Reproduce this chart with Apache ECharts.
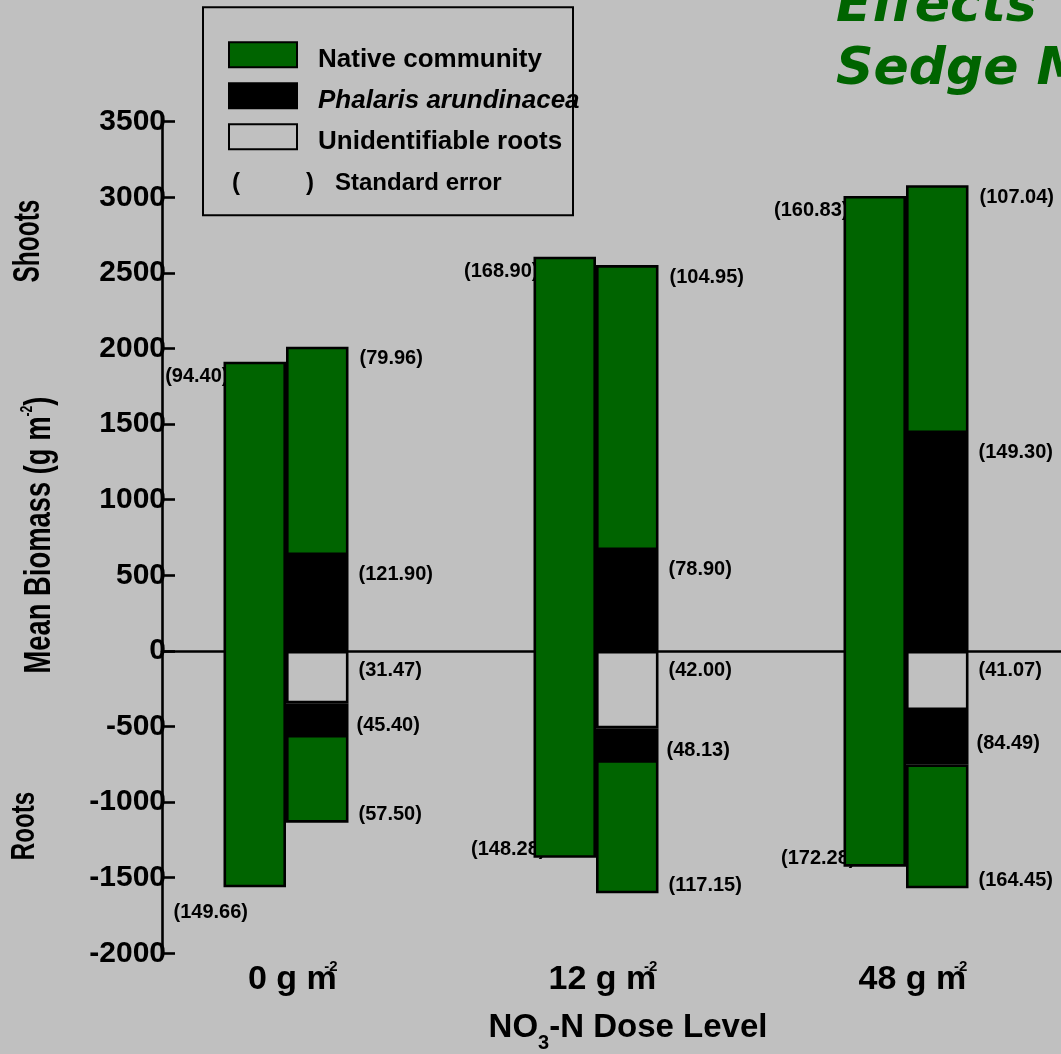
<!DOCTYPE html>
<html><head><meta charset="utf-8">
<script src="https://cdn.jsdelivr.net/npm/echarts@6/dist/echarts.min.js"></script>
<style>html,body{margin:0;padding:0;background:#c0c0c0;overflow:hidden}#c{width:1061px;height:1054px}</style>
</head><body><div id="c"></div><script>
// ---- data ----
const doses = ['0', '12', '48'];                 // NO3-N dose, g m-2
// Native community grown alone (left bar of each pair)
const aloneShoots = [1913, 2607, 3009];
const aloneRoots  = [1563, 1368, 1427];
// Native community + Phalaris (right bar of each pair)
const mixNativeShoots   = [1378, 1885, 1639];
const mixPhalarisShoots = [634, 667, 1441];
const mixUnidentRoots   = [347, 512, 391];
const mixPhalarisRoots  = [209, 210, 359];
const mixNativeRoots    = [580, 881, 820];
// standard errors
const seAloneShoots      = ['94.40', '168.90', '160.83'];
const seAloneRoots       = ['149.66', '148.28', '172.28'];
const seMixShoots        = ['79.96', '104.95', '107.04'];
const seMixPhalarisShoot = ['121.90', '78.90', '149.30'];
const seMixUnident       = ['31.47', '42.00', '41.07'];
const seMixPhalarisRoot  = ['45.40', '48.13', '84.49'];
const seMixNativeRoot    = ['57.50', '117.15', '164.45'];

const FONT = 'Liberation Sans';
const GREEN = '#006400';
const BG = '#c0c0c0';
const BW = 62.5;

function lbl(text, pos, align, vAlign, off) {
  return { show: true, formatter: '(' + text + ')', position: pos, align: align, verticalAlign: vAlign,
           offset: off, fontSize: 20, fontWeight: 'bold', color: '#000', fontFamily: FONT };
}
const border = { borderColor: '#000', borderWidth: 2.6 };
const xOf = i => i + 1;
// value first, group position second (so that stacking runs on the value dimension)
const pt = (v, i) => [v, xOf(i)];
const common = { type: 'bar', barWidth: BW, barGap: '0%', encode: { x: 1, y: 0 }, xAxisIndex: 0, yAxisIndex: 0 };

const series = [
  Object.assign({ name: 'leftBase', stack: 'left', stackStrategy: 'all', z: 1,
    itemStyle: { color: 'rgba(0,0,0,0)', borderWidth: 0 },
    data: doses.map((d, i) => ({ value: pt(-aloneRoots[i], i),
      label: i === 0 ? lbl(seAloneRoots[i], [0, '100%'], 'left', 'middle', [-50, 25])
                     : lbl(seAloneRoots[i], [0, '100%'], 'right', 'middle', [12, -8]) })) }, common),
  Object.assign({ name: 'Native community', stack: 'left', stackStrategy: 'all', z: 2,
    itemStyle: Object.assign({ color: GREEN }, border),
    data: doses.map((d, i) => pt(aloneShoots[i] + aloneRoots[i], i)) }, common),
  Object.assign({ name: 'leftTop', stack: 'left', stackStrategy: 'all', z: 1,
    itemStyle: { color: 'rgba(0,0,0,0)', borderWidth: 0 },
    data: doses.map((d, i) => ({ value: pt(0, i),
      label: lbl(seAloneShoots[i], [0, 0], 'right', 'middle', [5, 15]) })) }, common),

  Object.assign({ name: 'Unidentifiable roots', stack: 'right', z: 2,
    itemStyle: Object.assign({ color: BG }, border),
    data: doses.flatMap((d, i) => [
      { value: pt('-', i) },
      { value: pt(-mixUnidentRoots[i], i), label: lbl(seMixUnident[i], ['100%', 0], 'left', 'middle', [10, 20]) }
    ]) }, common),
  Object.assign({ name: 'Phalaris arundinacea', stack: 'right', z: 2,
    itemStyle: Object.assign({ color: '#000' }, border),
    data: doses.flatMap((d, i) => [
      { value: pt(mixPhalarisShoots[i], i), label: lbl(seMixPhalarisShoot[i], ['100%', 0], 'left', 'middle', [10, 19]) },
      { value: pt(-mixPhalarisRoots[i], i), label: lbl(seMixPhalarisRoot[i], ['100%', '50%'], 'left', 'middle', [8, 6]) }
    ]) }, common),
  Object.assign({ name: 'Native community', stack: 'right', z: 2,
    itemStyle: Object.assign({ color: GREEN }, border),
    data: doses.flatMap((d, i) => [
      { value: pt(mixNativeShoots[i], i), label: lbl(seMixShoots[i], ['100%', 0], 'left', 'middle', [11, 12]) },
      { value: pt(-mixNativeRoots[i], i), label: lbl(seMixNativeRoot[i], ['100%', '100%'], 'left', 'middle', [10, -8]) }
    ]) }, common)
];

const chart = echarts.init(document.getElementById('c'), null, { renderer: 'canvas' });
chart.setOption({
  backgroundColor: BG,
  animation: false,
  textStyle: { fontFamily: FONT },
  grid: [
    { left: 162, right: 0, top: 121.7, bottom: 100.7, containLabel: false, outerBoundsMode: 'none' },
    // label-only grid: three equal bands whose centres sit under the bar pairs
    { left: 130.75, right: 0, top: 121.7, bottom: 100.7, containLabel: false, outerBoundsMode: 'none' }
  ],
  xAxis: [
    { gridIndex: 0, type: 'value', min: 0.6, max: 3.5,
      axisLine: { show: true, onZero: true, lineStyle: { color: '#000', width: 2.6 } },
      axisTick: { show: false }, splitLine: { show: false }, axisLabel: { show: false } },
    { gridIndex: 1, type: 'category', data: doses, position: 'bottom',
      axisLine: { show: false }, axisTick: { show: false }, splitLine: { show: false },
      axisLabel: {
        margin: 6.5, interval: 0,
        formatter: v => '{p| }{a|' + v + ' g m}{s|-2}',
        rich: {
          p: { width: 14, fontSize: 34, lineHeight: 40 },
          a: { fontSize: 34, fontWeight: 'bold', color: '#000', fontFamily: FONT, lineHeight: 40 },
          s: { fontSize: 15, fontWeight: 'bold', color: '#000', fontFamily: FONT, lineHeight: 16, verticalAlign: 'top', width: 1, align: 'right' }
        }
      } }
  ],
  yAxis: [
    { gridIndex: 0, type: 'value', min: -2000, max: 3500, interval: 500,
      axisLine: { show: true, lineStyle: { color: '#000', width: 2.6 } },
      axisTick: { show: true, inside: true, length: 13, lineStyle: { color: '#000', width: 2.6 } },
      splitLine: { show: false },
      axisLabel: { fontSize: 30, fontWeight: 'bold', color: '#000', fontFamily: FONT, margin: -4, padding: [10, 0, 0, 0],
                   formatter: v => String(v) } },
    { gridIndex: 1, type: 'value', min: -2000, max: 3500, show: false }
  ],
  legend: {
    data: ['Native community', 'Phalaris arundinacea', 'Unidentifiable roots'],
    orient: 'vertical', left: 228, top: 36.7, padding: 0,
    itemWidth: 68, itemHeight: 25, itemGap: 5, icon: 'rect', selectedMode: false,
    formatter: n => '{' + (n === 'Phalaris arundinacea' ? 'i' : 'n') + '|' + n + '}',
    textStyle: { rich: {
      n: { fontSize: 26, fontWeight: 'bold', color: '#000', fontFamily: FONT, lineHeight: 26, padding: [10, 0, 0, 16] },
      i: { fontSize: 26, fontWeight: 'bold', fontStyle: 'italic', color: '#000', fontFamily: FONT, lineHeight: 26, padding: [10, 0, 0, 16] }
    } }
  },
  graphic: [
    { type: 'rect', shape: { x: 203, y: 7.3, width: 370, height: 208 }, style: { fill: 'none', stroke: '#000', lineWidth: 2 }, z: 10 },
    { type: 'text', x: 232, y: 183, style: { text: '(', font: 'bold 24px "Liberation Sans"', fill: '#000', verticalAlign: 'middle' }, z: 10 },
    { type: 'text', x: 306, y: 183, style: { text: ')', font: 'bold 24px "Liberation Sans"', fill: '#000', verticalAlign: 'middle' }, z: 10 },
    { type: 'text', x: 335, y: 183, style: { text: 'Standard error', font: 'bold 24px "Liberation Sans"', fill: '#000', verticalAlign: 'middle' }, z: 10 },
    { type: 'text', x: 40, y: 535, rotation: Math.PI / 2, scaleX: 0.76,
      style: { text: '{a|Mean Biomass (g m}{s|-2}{a|)}', align: 'center', verticalAlign: 'middle',
        rich: { a: { fontSize: 36, fontWeight: 'bold', fontFamily: FONT, fill: '#000', lineHeight: 40 },
                s: { fontSize: 16, fontWeight: 'bold', fontFamily: FONT, fill: '#000', lineHeight: 16, verticalAlign: 'top' } } }, z: 10 },
    { type: 'text', x: 29, y: 241, rotation: Math.PI / 2, scaleX: 0.68,
      style: { text: 'Shoots', align: 'center', verticalAlign: 'middle', font: 'bold 36px "Liberation Sans"', fill: '#000' }, z: 10 },
    { type: 'text', x: 25, y: 826, rotation: Math.PI / 2, scaleX: 0.71,
      style: { text: 'Roots', align: 'center', verticalAlign: 'middle', font: 'bold 34px "Liberation Sans"', fill: '#000' }, z: 10 },
    { type: 'text', x: 628, y: 1028,
      style: { text: '{a|NO}{b|3}{a|-N Dose Level}', align: 'center', verticalAlign: 'middle',
        rich: { a: { fontSize: 33, fontWeight: 'bold', fontFamily: FONT, fill: '#000', lineHeight: 38 },
                b: { fontSize: 20, fontWeight: 'bold', fontFamily: FONT, fill: '#000', lineHeight: 20, verticalAlign: 'bottom', padding: [0, 0, -6, 0] } } }, z: 10 },
    { type: 'text', x: 836, y: -24.5,
      style: { text: 'Effects\nSedge Meadow', font: 'italic bold 52px "DejaVu Sans"', fill: GREEN, lineHeight: 63, verticalAlign: 'top', align: 'left' }, z: 10 }
  ],
  series: series
});
</script></body></html>
